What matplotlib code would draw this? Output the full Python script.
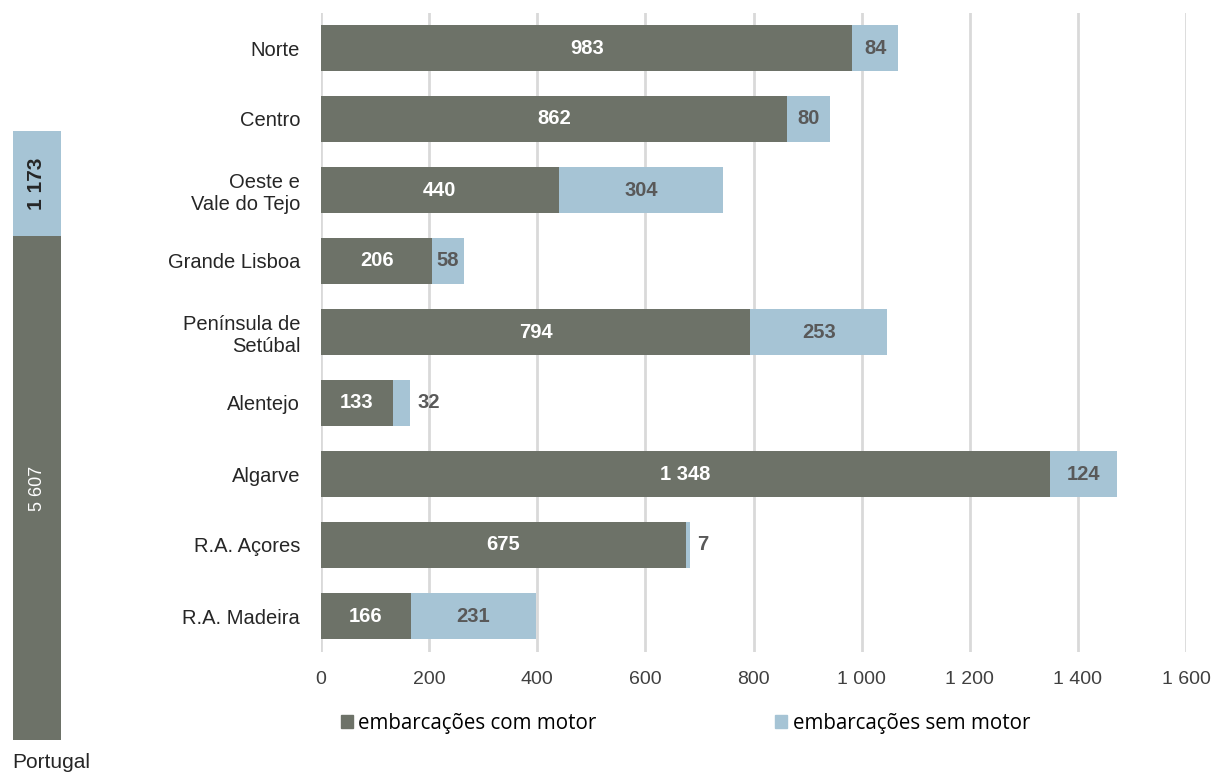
import numpy as np
import matplotlib.pyplot as plt
from matplotlib.patches import Patch

# Data
regions = ["Norte", "Centro", "Oeste e\nVale do Tejo", "Grande Lisboa", "Península de\nSetúbal",
           "Alentejo", "Algarve", "R.A. Açores", "R.A. Madeira"]
com_motor = [983, 862, 440, 206, 794, 133, 1348, 675, 166]
sem_motor = [84, 80, 304, 58, 253, 32, 124, 7, 231]
pt_com_motor = 5607
pt_sem_motor = 1173
legend_labels = ["embarcações com motor", "embarcações sem motor"]

DARK = "#6d7268"
LIGHT = "#a6c4d5"
LABEL_GRAY = "#595959"


def fmt(v):
    # thousands separated by a space
    return f"{v:,}".replace(",", " ")


plt.rcParams['font.family'] = ['Liberation Sans', 'DejaVu Sans']

fig = plt.figure(figsize=(12.15, 7.74), dpi=100)

# Main chart
ax = fig.add_axes([321 / 1215, 1 - 651.5 / 774, 865 / 1215, 639 / 774])
y = np.arange(len(regions))
ax.barh(y, com_motor, height=0.65, color=DARK, zorder=3)
ax.barh(y, sem_motor, left=com_motor, height=0.65, color=LIGHT, zorder=3)

for i, (a, b) in enumerate(zip(com_motor, sem_motor)):
    ax.text(a / 2, i, fmt(a), ha="center", va="center", color="white",
            fontsize=14.5, fontweight="bold", zorder=4)
    if b < 50:
        ax.text(a + b + 14, i, fmt(b), ha="left", va="center", color=LABEL_GRAY,
                fontsize=14.5, fontweight="bold", zorder=4)
    else:
        ax.text(a + b / 2, i, fmt(b), ha="center", va="center", color=LABEL_GRAY,
                fontsize=14.5, fontweight="bold", zorder=4)

ax.set_xlim(0, 1600)
ax.set_ylim(len(regions) - 0.5, -0.5)
ax.set_xticks(np.arange(0, 1601, 200))
ax.set_xticklabels([fmt(v) for v in range(0, 1601, 200)], fontsize=14, color="#404040")
ax.set_yticks(y)
ax.set_yticklabels(regions, fontsize=14.5, color="#262626")
ax.tick_params(length=0, pad=14)
ax.tick_params(axis="y", pad=15)
ax.grid(axis="x", color="#d9d9d9", linewidth=2, zorder=0)
for s in ax.spines.values():
    s.set_visible(False)

# Portugal total bar
axp = fig.add_axes([13 / 1215, 1 - 740 / 774, 48 / 1215, 609 / 774])
total = pt_com_motor + pt_sem_motor
axp.bar(0, pt_com_motor, width=1, color=DARK)
axp.bar(0, pt_sem_motor, bottom=pt_com_motor, width=1, color=LIGHT)
axp.text(0, pt_com_motor / 2, fmt(pt_com_motor), rotation=90, ha="center", va="center",
         color="white", fontsize=13)
axp.text(0, pt_com_motor + pt_sem_motor / 2, fmt(pt_sem_motor), rotation=90, ha="center",
         va="center", color="#262626", fontsize=15, fontweight="bold")
axp.set_xlim(-0.5, 0.5)
axp.set_ylim(0, total)
axp.axis("off")
fig.text(12 / 1215, 1 - 763 / 774, "Portugal", ha="left", va="center", fontsize=15,
         color="#262626")

# Legend
handles = [Patch(color=DARK), Patch(color=LIGHT)]
fig.legend(handles, legend_labels, loc="center left", bbox_to_anchor=(322 / 1215, 1 - 723 / 774),
           ncol=2, frameon=False, handlelength=0.6, handleheight=0.6, handletextpad=0.25,
           columnspacing=8.7, prop={"family": "Open Sans", "size": 14.8})

fig.savefig("out.png", dpi=100)
